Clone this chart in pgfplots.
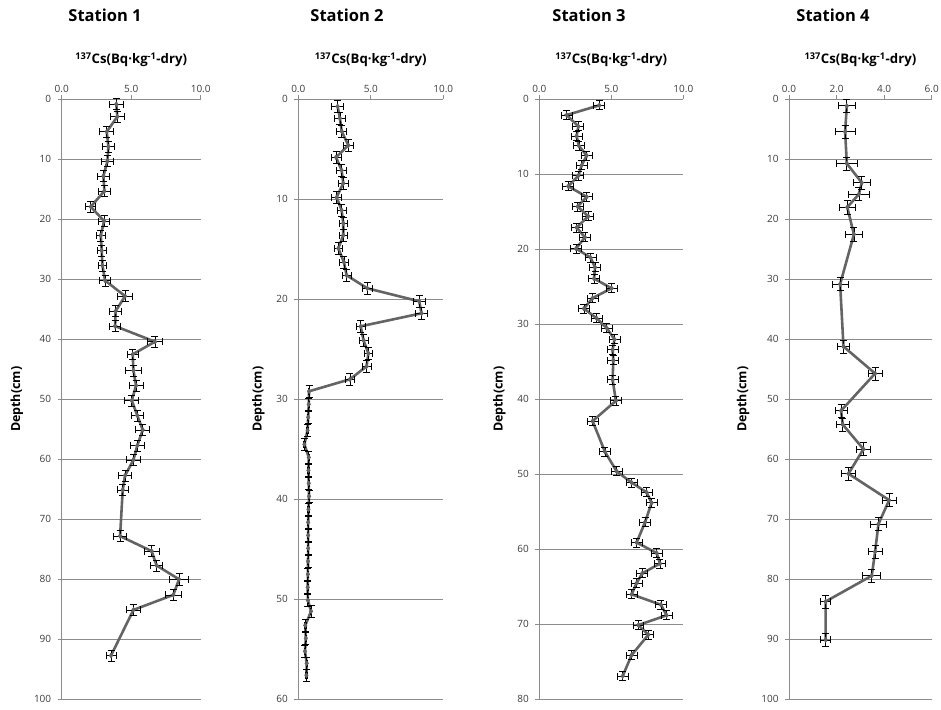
\documentclass[border=0pt]{standalone}
\usepackage{pgfplots}
\pgfplotsset{compat=1.18}
\usepackage{fontspec}
\setmainfont{Open Sans}

\definecolor{serie}{RGB}{100,100,100}
\definecolor{rule}{RGB}{140,140,140}
\definecolor{ticktext}{RGB}{60,60,60}

% depth (cm), activity, activity error, depth error
\pgfplotstableread{
d v ex ey
0.8 3.93 0.50 0.9
2.9 4.00 0.50 0.9
5.4 3.24 0.50 0.9
7.9 3.36 0.40 0.9
10.3 3.29 0.45 0.9
12.8 3.00 0.40 0.9
15.3 3.07 0.40 0.9
17.9 2.09 0.35 0.9
20.3 3.05 0.40 0.9
22.7 2.81 0.30 0.9
25.2 2.88 0.30 0.9
27.7 2.93 0.30 0.9
30.2 3.12 0.40 0.9
32.8 4.56 0.55 0.9
35.3 3.88 0.45 0.9
37.8 3.84 0.40 0.9
40.4 6.71 0.55 0.9
42.5 5.11 0.40 0.9
45.2 5.16 0.60 0.9
47.7 5.35 0.50 0.9
50.2 5.04 0.50 0.9
52.7 5.44 0.45 0.9
55.1 5.83 0.50 0.9
57.7 5.44 0.50 0.9
60.1 5.16 0.50 0.9
62.7 4.56 0.45 0.9
65.1 4.39 0.40 0.9
72.8 4.20 0.45 0.9
75.3 6.47 0.55 0.9
77.7 6.83 0.45 0.9
80.0 8.44 0.70 1.0
82.6 8.03 0.55 0.9
85.1 5.16 0.50 0.9
92.7 3.55 0.35 0.9
}\stationA

\pgfplotstableread{
d v ex ey
0.7 2.71 0.40 0.6
1.9 2.87 0.35 0.6
3.2 2.99 0.35 0.6
4.6 3.45 0.35 0.6
5.8 2.60 0.35 0.6
7.1 2.99 0.35 0.6
8.4 3.10 0.35 0.6
9.8 2.64 0.35 0.6
11.1 2.99 0.30 0.6
12.4 3.10 0.30 0.6
13.6 3.10 0.30 0.6
14.9 2.76 0.30 0.6
16.3 3.15 0.30 0.6
17.6 3.33 0.30 0.6
18.9 4.76 0.35 0.6
20.2 8.34 0.40 0.6
21.4 8.50 0.40 0.6
22.7 4.30 0.30 0.6
24.1 4.50 0.30 0.6
25.4 4.83 0.30 0.6
26.7 4.71 0.30 0.6
28.0 3.56 0.30 0.6
29.2 0.74 0.05 0.6
30.5 0.72 0.05 0.6
31.8 0.68 0.05 0.6
33.1 0.64 0.05 0.6
34.5 0.42 0.05 0.6
35.8 0.72 0.05 0.6
37.1 0.70 0.05 0.6
38.4 0.72 0.05 0.6
39.7 0.74 0.05 0.6
41.0 0.70 0.05 0.6
42.3 0.68 0.05 0.6
43.6 0.68 0.05 0.6
44.9 0.68 0.05 0.6
46.2 0.67 0.05 0.6
47.5 0.66 0.05 0.6
48.8 0.65 0.05 0.6
50.1 0.66 0.05 0.6
51.2 0.88 0.05 0.6
52.6 0.48 0.05 0.6
53.9 0.52 0.05 0.6
55.2 0.46 0.05 0.6
56.4 0.58 0.05 0.6
57.6 0.56 0.05 0.6
}\stationB

\pgfplotstableread{
d v ex ey
0.8 4.17 0.38 0.6
2.1 1.90 0.38 0.6
3.6 2.71 0.38 0.6
4.9 2.59 0.38 0.6
6.2 2.75 0.38 0.6
7.5 3.29 0.38 0.6
8.8 2.94 0.38 0.6
10.2 2.71 0.38 0.6
11.6 2.01 0.38 0.6
13.0 3.29 0.38 0.6
14.3 2.66 0.38 0.6
15.6 3.40 0.38 0.6
17.1 2.59 0.38 0.6
18.4 3.17 0.38 0.6
19.9 2.55 0.38 0.6
21.1 3.56 0.38 0.6
22.4 3.87 0.38 0.6
23.9 3.80 0.38 0.6
25.2 5.02 0.38 0.6
26.5 3.70 0.38 0.6
27.9 3.10 0.38 0.6
29.2 3.98 0.38 0.6
30.5 4.68 0.38 0.6
32.0 5.22 0.38 0.6
33.4 5.09 0.38 0.6
34.8 5.14 0.38 0.6
37.4 5.09 0.38 0.6
40.2 5.32 0.38 0.6
42.9 3.70 0.38 0.6
47.0 4.56 0.38 0.6
49.6 5.37 0.38 0.6
51.1 6.41 0.38 0.6
52.4 7.45 0.38 0.6
53.8 7.80 0.38 0.6
56.4 7.34 0.38 0.6
59.1 6.76 0.38 0.6
60.5 8.15 0.38 0.6
61.9 8.38 0.38 0.6
63.2 7.15 0.38 0.6
64.5 6.76 0.38 0.6
66.0 6.41 0.38 0.6
67.4 8.45 0.38 0.6
68.8 8.84 0.38 0.6
70.1 6.88 0.38 0.6
71.4 7.57 0.38 0.6
74.1 6.41 0.38 0.6
76.9 5.79 0.38 0.6
}\stationC

\pgfplotstableread{
d v ex ey
1.1 2.43 0.37 1.1
5.4 2.36 0.42 1.1
10.7 2.43 0.45 1.1
13.9 3.06 0.35 1.1
15.8 2.94 0.45 1.1
18.0 2.45 0.34 1.1
22.5 2.73 0.34 1.1
30.8 2.15 0.34 1.1
41.2 2.29 0.27 1.1
45.7 3.62 0.30 1.1
51.9 2.19 0.26 1.1
54.2 2.26 0.26 1.1
58.3 3.13 0.30 1.1
62.4 2.50 0.29 1.1
66.8 4.21 0.30 1.1
70.8 3.76 0.34 1.1
75.4 3.62 0.29 1.1
79.4 3.48 0.38 1.1
83.7 1.54 0.22 1.1
90.1 1.54 0.21 1.1
}\stationD

\pgfplotsset{
  profile/.style={
    scale only axis,
    height=600pt,
    y dir=reverse,
    axis x line*=top,
    axis y line*=left,
    axis line style={rule, line width=0.8pt},
    tick style={rule, line width=0.8pt},
    tick align=outside,
    major tick length=4pt,
    ymin=0, ytick distance=10,
    ymajorgrids,
    grid style={rule, line width=0.8pt},
    ticklabel style={font=\fontsize{10}{12}\selectfont, text=ticktext},
    /pgf/number format/assume math mode=true,
    xticklabel={\pgfmathprintnumber[fixed, fixed zerofill, precision=1]{\tick}},
    yticklabel style={xshift=-3pt},
    xticklabel style={yshift=-1pt},
    ylabel={Depth(cm)},
    ylabel style={font=\fontsize{12.5}{15}\selectfont\bfseries, anchor=center,
                  at={(axis description cs:0,0.5)}},
    clip=false,
  },
  cs/.style={
    serie, line width=2.6pt, mark=diamond*, mark size=2.4pt,
    mark options={serie, solid, line width=0.5pt},
    error bars/.cd,
      x dir=both, x explicit, y dir=both, y explicit,
      error bar style={black, line width=0.8pt},
      error mark=|,
      error mark options={black, line width=0.8pt, mark size=3.5pt},
  },
}

\newcommand{\cslabel}{\textbf{\textsuperscript{137}Cs(Bq·kg\textsuperscript{-1}-dry)}}

\begin{document}
\begin{tikzpicture}
\path[use as bounding box] (0pt,0pt) rectangle (941pt,709pt);

\begin{axis}[profile, at={(61.7pt,9.7pt)}, width=139pt,
  xmin=0, xmax=10, xtick={0,5,10}, ymax=100,
  ylabel style={yshift=44.7pt}]
  \addplot[cs] table[x=v, y=d, x error=ex, y error=ey] {\stationA};
\end{axis}

\begin{axis}[profile, at={(298.3pt,9.7pt)}, width=145pt,
  xmin=0, xmax=10, xtick={0,5,10}, ymax=60,
  ylabel style={yshift=40pt}]
  \addplot[cs] table[x=v, y=d, x error=ex, y error=ey] {\stationB};
\end{axis}

\begin{axis}[profile, at={(539.3pt,9.7pt)}, width=144pt,
  xmin=0, xmax=10, xtick={0,5,10}, ymax=80,
  ylabel style={yshift=40pt}]
  \addplot[cs] table[x=v, y=d, x error=ex, y error=ey] {\stationC};
\end{axis}

\begin{axis}[profile, at={(789pt,9.7pt)}, width=142.7pt,
  xmin=0, xmax=6, xtick={0,2,4,6}, ymax=100,
  ylabel style={yshift=46pt}]
  \addplot[cs] table[x=v, y=d, x error=ex, y error=ey] {\stationD};
\end{axis}

% panel titles
\foreach \xc/\name in {105/Station 1, 347/Station 2, 589/Station 3, 833/Station 4}
  \node[font=\fontsize{16.5}{19}\selectfont\bfseries] at (\xc pt,694pt) {\name};

% concentration axis labels
\foreach \xc in {131.2, 370.8, 611.3, 860.4}
  \node[font=\fontsize{13.2}{15}\selectfont] at (\xc pt,649pt) {\cslabel};
\end{tikzpicture}
\end{document}
